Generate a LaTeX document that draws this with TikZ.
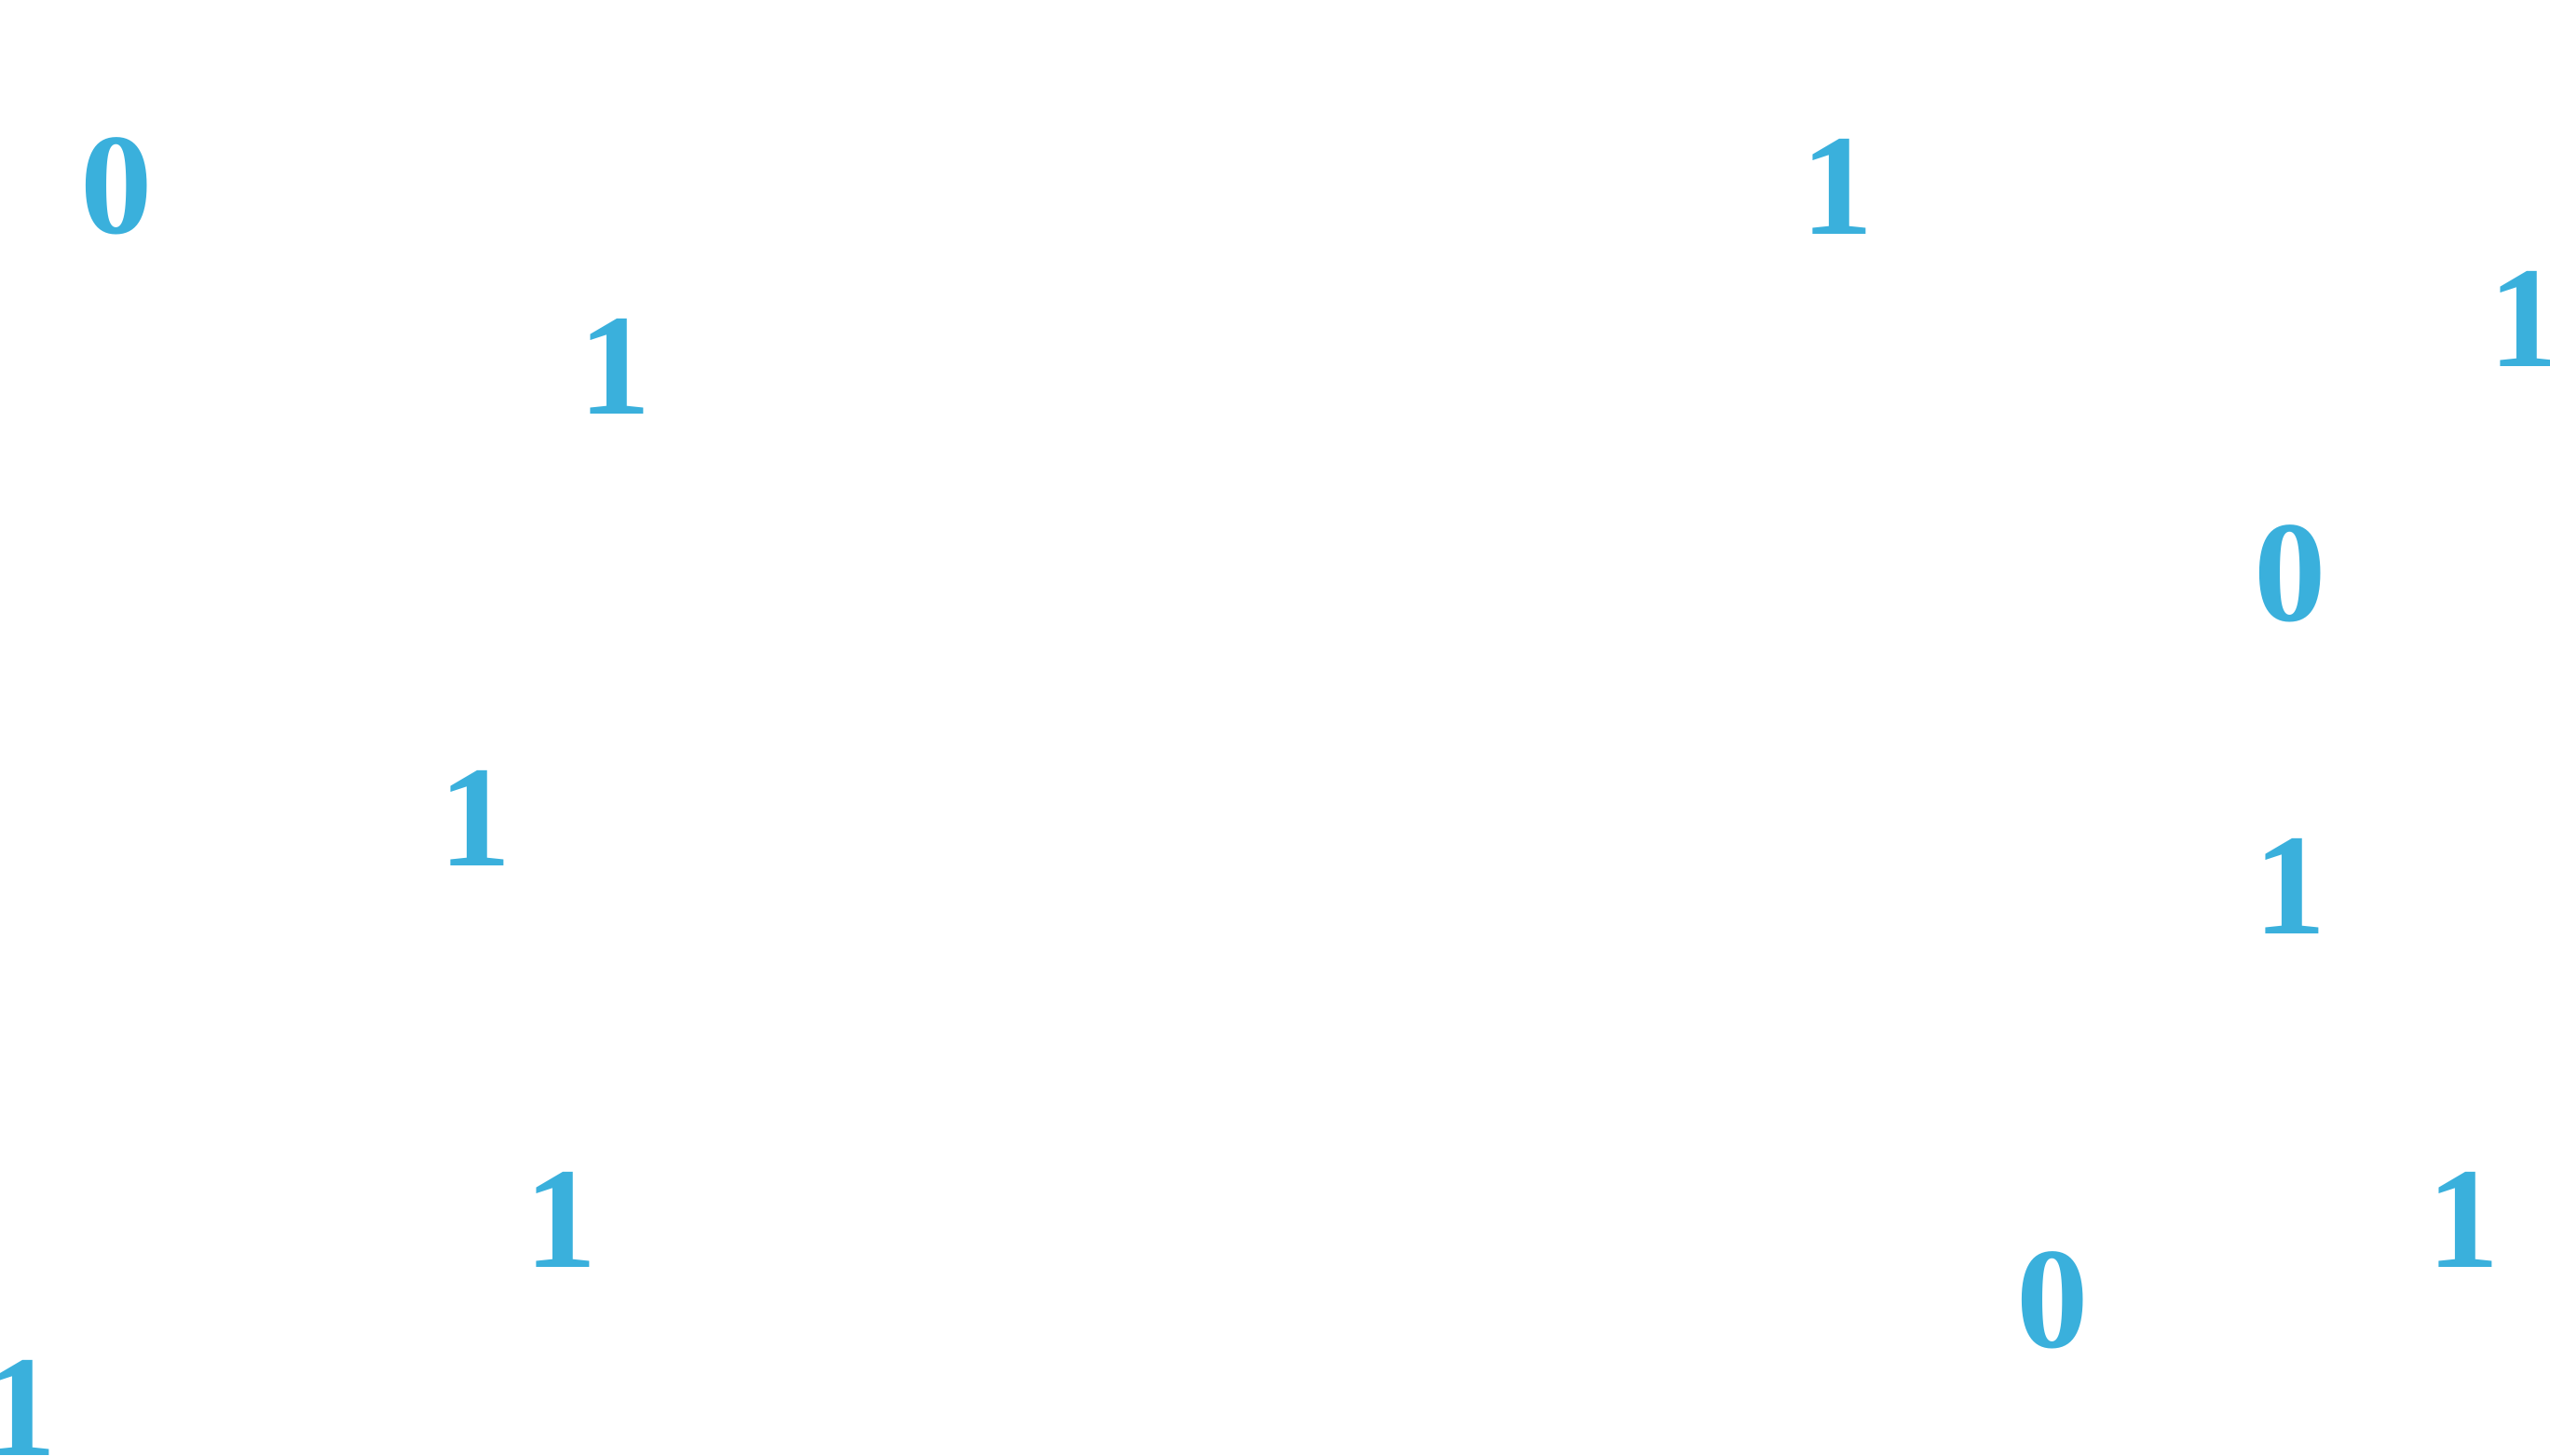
\documentclass[tikz,border=0pt]{standalone}
\usepackage{fontspec}
\setmainfont{Liberation Serif}
\usepackage{tikz}
\usepackage{xcolor}
\definecolor{azzurro}{RGB}{58,176,220}

\begin{document}
\begin{tikzpicture}[x = 0.01cm, y = -0.01cm,
    cifra/.style = {text = azzurro, font = \bfseries\fontsize{44}{48}\selectfont, inner sep = 0pt, anchor = center}]
    % Parametri
    \pgfmathsetmacro{\larg}{2737}
    \pgfmathsetmacro{\alt}{1562}
    % Cornice
    \useasboundingbox (0,0) rectangle (\larg,\alt);
    % Cifre
    \foreach \x/\y/\c [count = \i] in {125/200/0, 660/393/1, 1972/200/1, 2710/342/1,
        2458/616/0, 510/878/1, 2458/951/1, 602/1309/1, 2203/1396/0, 2644/1309/1, 22/1511/1}{
        \node[cifra] (c\i) at (\x,\y){\c};
    }
\end{tikzpicture}
\end{document}
